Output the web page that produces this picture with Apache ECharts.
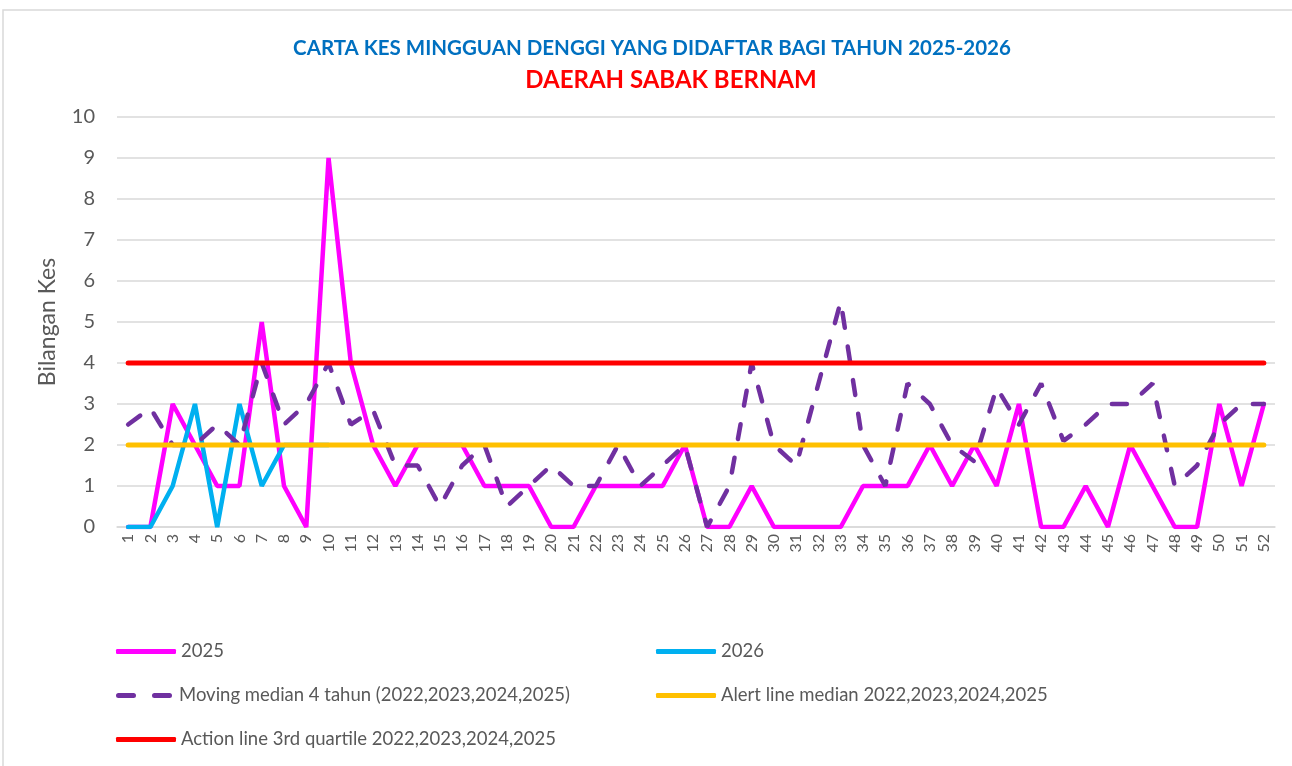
<!DOCTYPE html>
<html>
<head>
<meta charset="utf-8">
<script src="https://cdn.jsdelivr.net/npm/echarts@6/dist/echarts.min.js"></script>
<style>
html,body{margin:0;padding:0;background:#fff;}
#chart{width:1292px;height:766px;}
</style>
</head>
<body>
<div id="chart"></div>
<script>
const weeks = ['1','2','3','4','5','6','7','8','9','10','11','12','13','14','15','16','17','18','19','20','21','22','23','24','25','26','27','28','29','30','31','32','33','34','35','36','37','38','39','40','41','42','43','44','45','46','47','48','49','50','51','52'];
const cases2025 = [0,0,3,2,1,1,5,1,0,9,4,2,1,2,2,2,1,1,1,0,0,1,1,1,1,2,0,0,1,0,0,0,0,1,1,1,2,1,2,1,3,0,0,1,0,2,1,0,0,3,1,3];
const cases2026 = [0,0,1,3,0,3,1,2,2,2];
const movingMedian = [2.5,2.9,2,2,2.5,2,4,2.5,3,4,2.5,2.85,1.5,1.5,0.5,1.5,2,0.5,1,1.5,1,1,2,1,1.5,2,0,1,4,2,1.5,3.5,5.5,2,1,3.5,3,2,1.6,3.4,2.5,3.5,2.1,2.5,3,3,3.5,1,1.5,2.5,3,3];
const alertLine = [2,2,2,2,2,2,2,2,2,2,2,2,2,2,2,2,2,2,2,2,2,2,2,2,2,2,2,2,2,2,2,2,2,2,2,2,2,2,2,2,2,2,2,2,2,2,2,2,2,2,2,2];
const actionLine = [4,4,4,4,4,4,4,4,4,4,4,4,4,4,4,4,4,4,4,4,4,4,4,4,4,4,4,4,4,4,4,4,4,4,4,4,4,4,4,4,4,4,4,4,4,4,4,4,4,4,4,4];
const names = ['2025','2026','Moving median 4 tahun (2022,2023,2024,2025)','Alert line median 2022,2023,2024,2025','Action line 3rd quartile 2022,2023,2024,2025'];
const titleText = 'CARTA KES MINGGUAN DENGGI YANG DIDAFTAR BAGI TAHUN 2025-2026';
const subtitleText = 'DAERAH SABAK BERNAM';
const yTicks = ['0','1','2','3','4','5','6','7','8','9','10'];

const FONT = 'Lato, "Open Sans", sans-serif';
const chart = echarts.init(document.getElementById('chart'));

const SOLID_ICON = 'roundRect';
const DASH_ICON = 'path://M2,0h15a2,2 0 0 1 0,5h-15a2,2 0 0 1 0,-5zM38,0h15a2,2 0 0 1 0,5h-15a2,2 0 0 1 0,-5z';

function legendAt(name, icon, left, top) {
  return {
    data: [{name: name, icon: icon}], left: left, top: top, orient: 'horizontal',
    itemWidth: 60, itemHeight: 5, itemGap: 10, padding: 0,
    textStyle: {color: '#595959', fontSize: 18.5, fontFamily: FONT, padding: [0,0,0,0]},
    selectedMode: false
  };
}

const option = {
  backgroundColor: '#ffffff',
  animation: false,
  graphic: [{
    type: 'rect', shape: {x: 3, y: 10, width: 1300, height: 800},
    style: {fill: 'none', stroke: '#d9d9d9', lineWidth: 1.5}, silent: true, z: -1
  }],
  title: [
    {text: titleText, left: 647, top: 33, textAlign: 'center',
     textStyle: {color: '#0070C0', fontSize: 20.5, fontWeight: 'bold', fontFamily: FONT}},
    {text: subtitleText, left: 666, top: 63, textAlign: 'center',
     textStyle: {color: '#FF0000', fontSize: 24, fontWeight: 'bold', fontFamily: FONT}}
  ],
  legend: [
    legendAt(names[0], SOLID_ICON, 116, 642),
    legendAt(names[1], SOLID_ICON, 656, 642),
    legendAt(names[2], DASH_ICON, 116, 686),
    legendAt(names[3], SOLID_ICON, 656, 686),
    legendAt(names[4], SOLID_ICON, 116, 730)
  ],
  grid: {left: 117, right: 17, top: 117, bottom: 239, containLabel: false},
  xAxis: {
    type: 'category', data: weeks, boundaryGap: true,
    axisLine: {show: true, lineStyle: {color: '#d9d9d9', width: 1.5}},
    axisTick: {show: false},
    axisLabel: {rotate: 90, color: '#595959', fontSize: 16, fontFamily: FONT, margin: 7, interval: 0}
  },
  yAxis: {
    type: 'value', min: 0, max: 10, interval: 1,
    name: 'Bilangan Kes', nameLocation: 'middle', nameGap: 58,
    nameTextStyle: {color: '#595959', fontSize: 23, fontFamily: FONT},
    axisLine: {show: false}, axisTick: {show: false},
    axisLabel: {color: '#595959', fontSize: 20, fontFamily: FONT, margin: 22,
      formatter: function (v) { return yTicks[v] !== undefined ? yTicks[v] : v; }},
    splitLine: {lineStyle: {color: '#d9d9d9', width: 1.5}}
  },
  series: [
    {name: names[0], type: 'line', data: cases2025, symbol: 'none', lineStyle: {color: '#FF00FF', width: 4.5, cap: 'round'}, itemStyle: {color: '#FF00FF'}},
    {name: names[1], type: 'line', data: cases2026, symbol: 'none', lineStyle: {color: '#00B0F0', width: 4.5, cap: 'round'}, itemStyle: {color: '#00B0F0'}},
    {name: names[2], type: 'line', data: movingMedian, symbol: 'none', lineStyle: {color: '#7030A0', width: 4.5, type: [15, 19], cap: 'round'}, itemStyle: {color: '#7030A0'}},
    {name: names[3], type: 'line', data: alertLine, symbol: 'none', lineStyle: {color: '#FFC000', width: 5, cap: 'round'}, itemStyle: {color: '#FFC000'}},
    {name: names[4], type: 'line', data: actionLine, symbol: 'none', lineStyle: {color: '#FF0000', width: 5, cap: 'round'}, itemStyle: {color: '#FF0000'}}
  ]
};
chart.setOption(option);
</script>
</body>
</html>
